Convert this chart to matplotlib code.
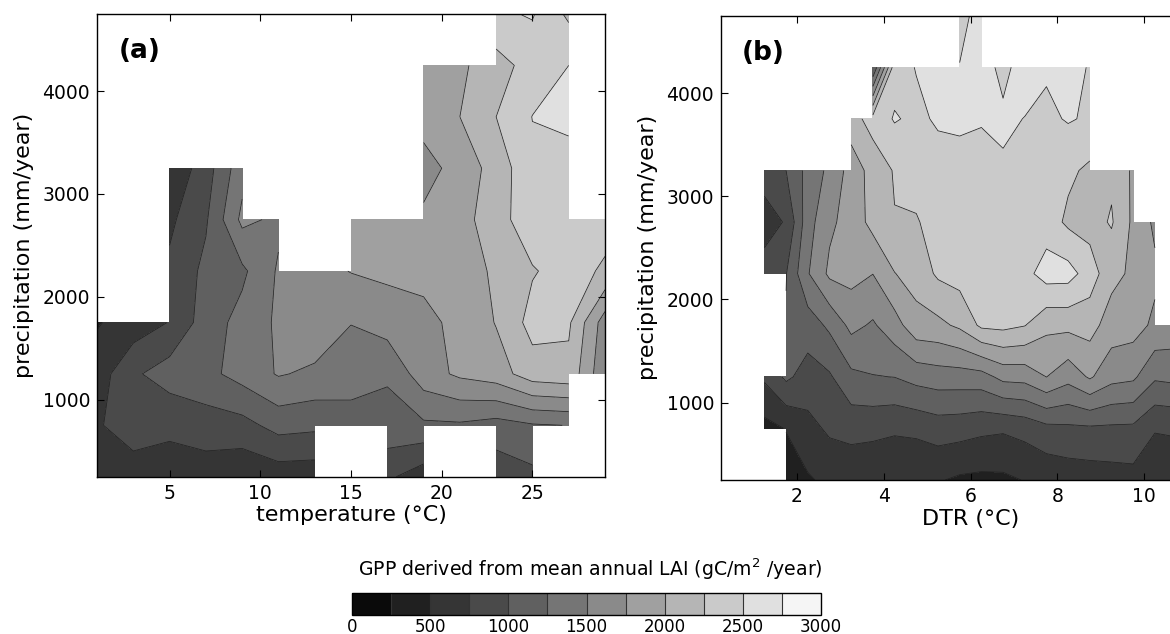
import numpy as np
import matplotlib
matplotlib.use('Agg')
import matplotlib.pyplot as plt

nan = np.nan

# ---------------- data ----------------
levels = np.arange(0, 3001, 250)
precip = [250, 750, 1250, 1750, 2250, 2750, 3250, 3750, 4250, 4750]

temperature = [1, 3, 5, 7, 9, 11, 13, 15, 17, 19, 21, 23, 25, 27, 29]
# GPP rows per precipitation level (250 ... 4750), columns per temperature
gpp_temp_250 = [640, 700, 640, 620, 550, 610, 600, nan, 800, 600, nan, 836, 933, nan, nan]
gpp_temp_750 = [739, 800, 800, 880, 914, 1090, 1057, 1100, 1164, 1207, 1215, 1151, 1227, 1255, nan]
gpp_temp_1250 = [620, 960, 1120, 1180, 1345, 1521, 1451, 1406, 1279, 1638, 1796, 1882, 2136, 2180, 1550]
gpp_temp_1750 = [480, 610, 760, 1125, 1333, 1541, 1684, 1505, 1614, 1700, 1800, 2013, 2338, 2289, 1624]
gpp_temp_2250 = [nan, nan, 800, 1060, 1200, 1530, 1650, 1760, 1800, 1800, 1850, 2050, 2230, 2350, 2214]
gpp_temp_2750 = [nan, nan, 700, 970, 1560, 1450, nan, 1800, 1850, 1800, 1900, 2150, 2400, 2450, 2340]
gpp_temp_3250 = [nan, nan, 540, 884, 1410, nan, nan, nan, nan, 1650, 1850, 2100, 2450, 2400, nan]
gpp_temp_3750 = [nan, nan, nan, nan, nan, nan, nan, nan, nan, 1850, 2000, 2250, 2505, 2560, nan]
gpp_temp_4250 = [nan, nan, nan, nan, nan, nan, nan, nan, nan, 1800, 1950, 2150, 2350, 2500, nan]
gpp_temp_4750 = [nan, nan, nan, nan, nan, nan, nan, nan, nan, nan, nan, 2463, 2520, 2200, nan]

dtr = [0.25, 0.75, 1.25, 1.75, 2.25, 2.75, 3.25, 3.75, 4.25, 4.75, 5.25, 5.75,
       6.25, 6.75, 7.25, 7.75, 8.25, 8.75, 9.25, 9.75, 10.25, 10.75, 11.25, 11.75]
gpp_dtr_250 = [nan, nan, nan, 380, 470, 560, 560, 540, 540, 520, 520, 460,
               440, 450, 510, 560, 600, 620, 640, 660, 650, 600, 620, 620]
gpp_dtr_750 = [nan, nan, 420, 510, 671, 792, 837, 821, 785, 807, 869, 853,
               808, 784, 835, 932, 953, 963, 956, 950, 760, 780, 800, 800]
gpp_dtr_1250 = [nan, nan, 790, 1050, 897, 968, 1192, 1240, 1254, 1340, 1380, 1383,
                1398, 1574, 1590, 1753, 1590, 1783, 1588, 1547, 1290, 1320, 1300, 1300]
gpp_dtr_1750 = [nan, nan, nan, 1020, 1120, 1300, 1568, 1469, 1647, 1911, 1937, 2047,
                2300, 2320, 2260, 2060, 2065, 2098, 1877, 1850, 1700, 1650, 1600, 1600]
gpp_dtr_2250 = [nan, nan, 800, 990, 1480, 1800, 1830, 1753, 1993, 2100, 2290, 2350,
                2380, 2400, 2420, 2610, 2600, 2380, 2080, 1950, 1800, nan, nan, nan]
gpp_dtr_2750 = [nan, nan, 700, 760, 1400, 1700, 1850, 2080, 2240, 2230, 2350, 2400,
                2420, 2430, 2420, 2380, 2200, 2150, 2275, 1950, 1700, nan, nan, nan]
gpp_dtr_3250 = [nan, nan, 800, 1000, 1330, 1560, 1850, 2100, 2270, 2350, 2400, 2420,
                2450, 2470, 2460, 2430, 2300, 2200, 2200, 1960, nan, nan, nan, nan]
gpp_dtr_3750 = [nan, nan, nan, nan, nan, nan, 2150, 2350, 2520, 2450, 2530, 2540,
                2510, 2540, 2495, 2450, 2520, 2470, nan, nan, nan, nan, nan, nan]
gpp_dtr_4250 = [nan, nan, nan, nan, nan, nan, nan, 1000, 2400, 2510, 2600, 2505,
                2600, 2440, 2600, 2530, 2600, 2480, nan, nan, nan, nan, nan, nan]
gpp_dtr_4750 = [nan, nan, nan, nan, nan, nan, nan, nan, nan, nan, nan, 2450,
                2560, nan, nan, nan, nan, nan, nan, nan, nan, nan, nan, nan]

xticks_a = [5, 10, 15, 20, 25]
xticks_b = [2, 4, 6, 8, 10]
yticks = [1000, 2000, 3000, 4000]
cbar_ticks = [0, 500, 1000, 1500, 2000, 2500, 3000]

gpp_temp = np.ma.masked_invalid(np.array([
    gpp_temp_250, gpp_temp_750, gpp_temp_1250, gpp_temp_1750, gpp_temp_2250,
    gpp_temp_2750, gpp_temp_3250, gpp_temp_3750, gpp_temp_4250, gpp_temp_4750]))
gpp_dtr = np.ma.masked_invalid(np.array([
    gpp_dtr_250, gpp_dtr_750, gpp_dtr_1250, gpp_dtr_1750, gpp_dtr_2250,
    gpp_dtr_2750, gpp_dtr_3250, gpp_dtr_3750, gpp_dtr_4250, gpp_dtr_4750]))

# ---------------- figure ----------------
W, H = 1170, 634
fig = plt.figure(figsize=(W / 100, H / 100), dpi=100)

ax1 = fig.add_axes([97 / W, (H - 476.7) / H, 508 / W, 462.7 / H])
ax2 = fig.add_axes([721 / W, (H - 480) / H, 499 / W, 464.3 / H])


def panel(ax, x, z, xlim, xticks, xlabel, tag):
    cs = ax.contourf(x, precip, z, levels=levels, cmap='gray', vmin=0, vmax=3000,
                     corner_mask=False)
    ax.contour(x, precip, z, levels=levels, colors='#222222', linewidths=0.55,
               corner_mask=False)
    ax.set_xlim(*xlim)
    ax.set_ylim(250, 4750)
    ax.set_xticks(xticks)
    ax.set_yticks(yticks)
    ax.tick_params(direction='in', top=True, right=True, length=5, width=0.8,
                   labelsize=13.5, pad=5)
    for s in ax.spines.values():
        s.set_linewidth(1.0)
    ax.set_xlabel(xlabel, fontsize=16, labelpad=2)
    ax.set_ylabel('precipitation (mm/year)', fontsize=16, labelpad=6)
    ax.text(0.042, 0.92, tag, transform=ax.transAxes, fontsize=19,
            fontweight='bold', va='center', ha='left')
    return cs


cs = panel(ax1, temperature, gpp_temp, (1, 29), xticks_a, 'temperature (°C)', '(a)')
panel(ax2, dtr, gpp_dtr, (0.25, 11.75), xticks_b, 'DTR (°C)', '(b)')

cax = fig.add_axes([352 / W, 19 / H, 469 / W, 22 / H])
cb = fig.colorbar(cs, cax=cax, orientation='horizontal', drawedges=True)
cb.set_ticks(cbar_ticks)
cb.ax.tick_params(labelsize=12, length=0, pad=2)
cb.outline.set_linewidth(1.0)
cb.dividers.set_linewidth(0.8)
cb.dividers.set_color('#333333')
fig.text(590 / W, (H - 569) / H, r'GPP derived from mean annual LAI (gC/m$^2$ /year)',
         ha='center', va='center', fontsize=13.6)

fig.savefig('out.png', dpi=100)
